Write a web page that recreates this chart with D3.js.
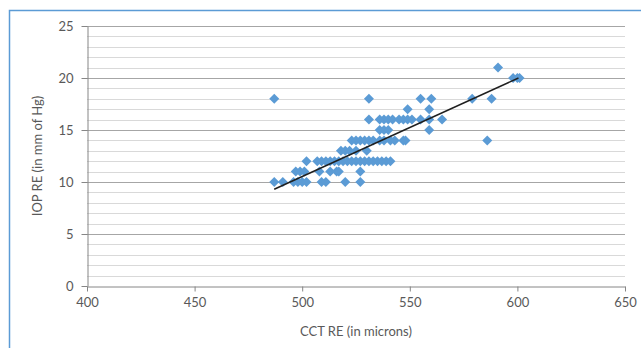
<!DOCTYPE html>
<html>
<head>
<meta charset="utf-8">
<script src="https://cdn.jsdelivr.net/npm/d3@7"></script>
<style>
  html, body { margin: 0; padding: 0; background: #ffffff; }
  svg { display: block; }
  text { font-family: Lato, "Liberation Sans", sans-serif; fill: #595959; }
</style>
</head>
<body>
<svg id="chart" width="641" height="348"></svg>
<script>
// ---- data ----
const cct = [
  487, 491, 496, 498, 500, 502, 509, 511, 520, 527,
  497, 499, 501, 508, 513, 516, 517, 527,
  502, 507, 509, 511, 513, 515, 517, 519, 521, 523, 525, 527, 529, 531, 533, 535, 537, 539, 541,
  518, 520, 522, 525, 530,
  523, 525, 527, 529, 531, 533, 536, 538, 541, 543, 547, 548, 586,
  536, 538, 540, 559,
  531, 536, 538, 540, 542, 545, 547, 549, 551, 555, 559, 565,
  549, 559,
  487, 531, 555, 560, 579, 588,
  598, 600, 601,
  591
];
const iop = [
  10, 10, 10, 10, 10, 10, 10, 10, 10, 10,
  11, 11, 11, 11, 11, 11, 11, 11,
  12, 12, 12, 12, 12, 12, 12, 12, 12, 12, 12, 12, 12, 12, 12, 12, 12, 12, 12,
  13, 13, 13, 13, 13,
  14, 14, 14, 14, 14, 14, 14, 14, 14, 14, 14, 14, 14,
  15, 15, 15, 15,
  16, 16, 16, 16, 16, 16, 16, 16, 16, 16, 16, 16,
  17, 17,
  18, 18, 18, 18, 18, 18,
  20, 20, 20,
  21
];
// linear trendline end points
const trendCct = [487, 600.5];
const trendIop = [9.3, 20.0];
const xTicks = [400, 450, 500, 550, 600, 650];
const yTicks = [0, 5, 10, 15, 20, 25];
const xTitle = "CCT RE (in microns)";
const yTitle = "IOP RE (in mm of Hg)";

// ---- layout ----
const svg = d3.select("#chart");
const W = 641, H = 348;
const plot = { left: 87, right: 625, top: 26, bottom: 286 };

const x = d3.scaleLinear().domain([400, 650]).range([plot.left, plot.right]);
const y = d3.scaleLinear().domain([0, 25]).range([plot.bottom, plot.top]);

// outer frame (blue)
svg.append("rect")
  .attr("x", 9.5).attr("y", 10.5)
  .attr("width", W + 20).attr("height", H + 20)
  .attr("fill", "none").attr("stroke", "#5b9bd5").attr("stroke-width", 1.5);

// minor gridlines (every unit)
const minor = d3.range(1, 25).filter(v => v % 5 !== 0);
svg.append("g").selectAll("line").data(minor).join("line")
  .attr("x1", plot.left).attr("x2", plot.right)
  .attr("y1", d => Math.round(y(d)) + 0.5).attr("y2", d => Math.round(y(d)) + 0.5)
  .attr("stroke", "#d9d9d9").attr("stroke-width", 1);
// major gridlines
svg.append("g").selectAll("line").data(yTicks.filter(v => v > 0)).join("line")
  .attr("x1", plot.left).attr("x2", plot.right)
  .attr("y1", d => Math.round(y(d)) + 0.5).attr("y2", d => Math.round(y(d)) + 0.5)
  .attr("stroke", "#a6a6a6").attr("stroke-width", 1);

// axes
const xAxis = d3.axisBottom(x).tickValues(xTicks).tickSize(5).tickPadding(6).tickSizeOuter(0);
const yAxis = d3.axisLeft(y).tickValues(yTicks).tickSize(6).tickPadding(8).tickSizeOuter(0);

const gx = svg.append("g").attr("transform", `translate(0,${Math.round(plot.bottom) + 0.5})`).call(xAxis);
const gy = svg.append("g").attr("transform", `translate(${plot.left + 0.5},0)`).call(yAxis);
[gx, gy].forEach(g => {
  g.select(".domain").attr("stroke", "#868686");
  g.selectAll(".tick line").attr("stroke", "#868686");
  g.selectAll(".tick text").attr("fill", "#595959")
    .style("font-family", "Lato, 'Liberation Sans', sans-serif").style("font-size", "13px");
});

// points (diamonds)
const pts = cct.map((c, i) => ({ c, v: iop[i] }));
const diamond = d3.symbol().type(d3.symbolSquare).size(50);
svg.append("g").selectAll("path").data(pts).join("path")
  .attr("d", diamond)
  .attr("transform", d => `translate(${x(d.c)},${y(d.v)}) rotate(45)`)
  .attr("fill", "#5b9bd5");

// linear trendline
svg.append("path")
  .datum(trendCct.map((c, i) => [c, trendIop[i]]))
  .attr("d", d3.line().x(d => x(d[0])).y(d => y(d[1])))
  .attr("fill", "none")
  .attr("stroke", "#1f1f1f").attr("stroke-width", 1.5);

// axis titles
svg.append("text")
  .attr("x", (plot.left + plot.right) / 2).attr("y", 336)
  .attr("text-anchor", "middle").style("font-size", "13px")
  .text(xTitle);
svg.append("text")
  .attr("transform", `translate(42,${(plot.top + plot.bottom) / 2}) rotate(-90)`)
  .attr("text-anchor", "middle").style("font-size", "13px")
  .text(yTitle);
</script>
</body>
</html>
